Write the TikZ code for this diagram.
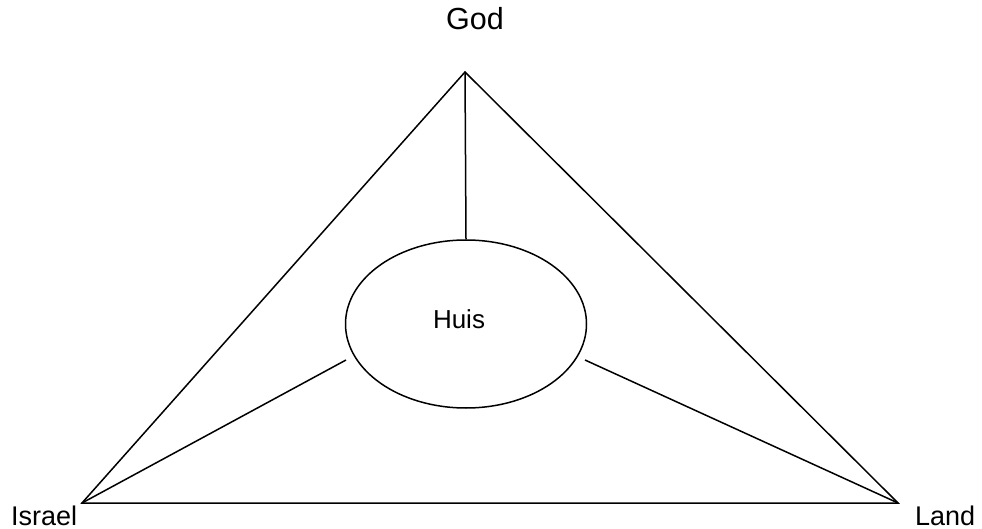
\documentclass[tikz,border=0pt]{standalone}
\usepackage{fontspec}
\setmainfont{Liberation Sans}
\usetikzlibrary{shapes.geometric}

\begin{document}
\begin{tikzpicture}[
  x=1pt, y=-1pt,
  label/.style={inner sep=0pt, font=\fontsize{27}{29}\selectfont},
  house/.style={
    draw, line width=1.5pt, ellipse, minimum width=241pt, minimum height=168pt,
    inner sep=0pt, font=\fontsize{26}{28}\selectfont
  },
  edge/.style={line width=1.5pt}
]
\useasboundingbox (0,0) rectangle (982,529);

% corners
\coordinate (top) at (465,72);
\coordinate (left) at (82,503);
\coordinate (right) at (898,503);

% labels
\node[label, font=\fontsize{30.5}{32}\selectfont, anchor=base] (god) at (475,30) {God};
\node[label, anchor=base west] (israel) at (11,525) {Israel};
\node[label, anchor=base west] (land) at (915,525) {Land};

% house in the middle
\node[house] (huis) at (466,324) {};
\node[inner sep=0pt, font=\fontsize{26}{28}\selectfont, anchor=base] (huistext) at (459,328) {Huis};

% ends of the inner lines, short of the ellipse
\coordinate (hl) at (346,360);
\coordinate (hr) at (585,360);

% triangle
\draw[edge] (top) -- (left) -- (right) -- cycle;

% inner lines
\draw[edge] (top) -- (huis.north);
\draw[edge] (left) -- (hl);
\draw[edge] (right) -- (hr);

\end{tikzpicture}
\end{document}
